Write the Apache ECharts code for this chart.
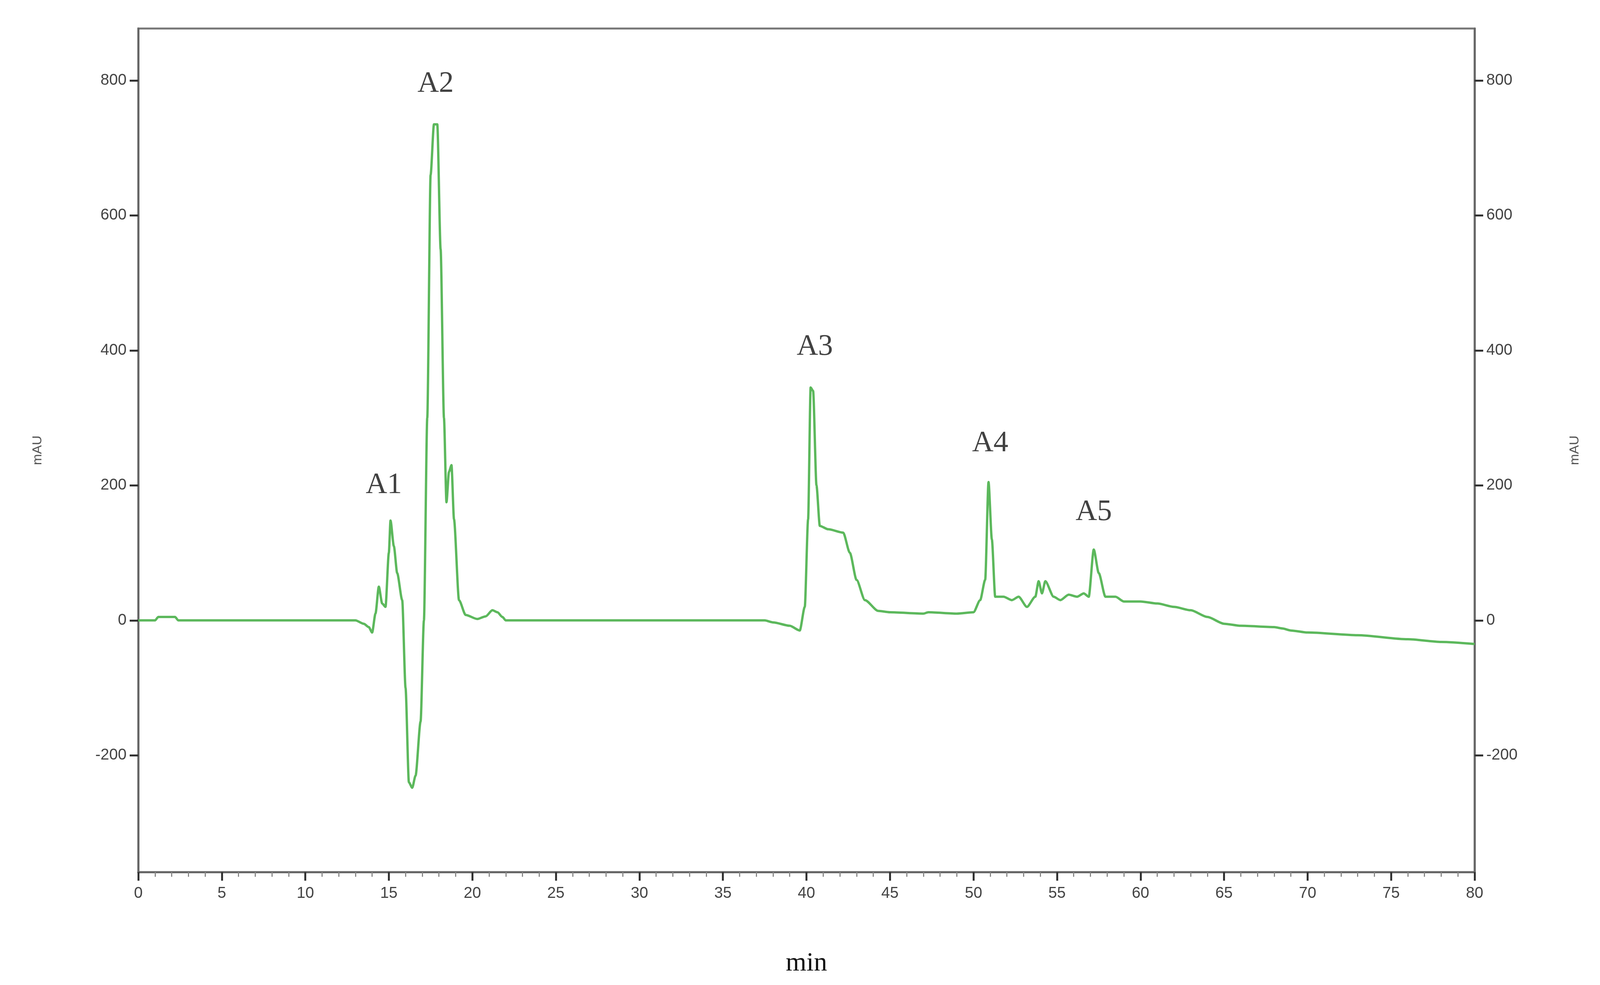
<!DOCTYPE html>
<html>
<head>
<meta charset="utf-8">
<script src="https://cdn.jsdelivr.net/npm/echarts@6/dist/echarts.min.js"></script>
<style>html,body{margin:0;padding:0;background:#fff;overflow:hidden}#chart{width:100vw;height:100vh}</style>
</head>
<body>
<div id="chart"></div>
<script>
// retention time (min) and absorbance (mAU)
var times = [0, 1.0, 1.2, 2.2, 2.4, 13.0, 13.5, 13.8, 14.0, 14.2, 14.4, 14.6, 14.8, 15.0, 15.1, 15.3, 15.5, 15.8, 16.0, 16.2, 16.4, 16.6, 16.9, 17.1, 17.3, 17.5, 17.7, 17.9, 18.1, 18.3, 18.45, 18.6, 18.75, 18.9, 19.2, 19.6, 20.3, 20.8, 21.2, 21.5, 21.8, 22.0, 37.5, 38.0, 39.0, 39.6, 39.9, 40.1, 40.25, 40.4, 40.6, 40.8, 41.3, 42.2, 42.6, 43.0, 43.5, 44.3, 45.0, 47.0, 47.3, 49.0, 50.0, 50.4, 50.7, 50.9, 51.1, 51.3, 51.8, 52.3, 52.7, 53.2, 53.7, 53.9, 54.1, 54.3, 54.8, 55.2, 55.7, 56.2, 56.6, 56.9, 57.2, 57.5, 57.9, 58.5, 59.0, 60.0, 61.0, 62.0, 63.0, 64.0, 65.0, 66.0, 68.0, 68.5, 69.0, 70.0, 73.0, 76.0, 78.0, 80.0];
var mAU = [0, 0, 5, 5, 0, 0, -5, -10, -18, 10, 50, 25, 20, 100, 148, 110, 70, 30, -100, -240, -248, -230, -150, 0, 300, 660, 735, 735, 550, 300, 175, 220, 230, 150, 30, 8, 2, 6, 15, 12, 5, 0, 0, -3, -8, -15, 20, 150, 345, 340, 200, 140, 135, 130, 100, 60, 30, 14, 12, 10, 12, 10, 12, 30, 60, 205, 120, 35, 35, 30, 35, 20, 35, 58, 40, 58, 35, 30, 38, 35, 40, 35, 105, 70, 35, 35, 28, 28, 25, 20, 15, 5, -5, -8, -10, -12, -15, -18, -22, -28, -32, -35];
var peakNames = ['A1', 'A2', 'A3', 'A4', 'A5'];
var peakTimes = [14.7, 17.8, 40.5, 51.0, 57.2];
var peakLabelY = [200, 795, 405, 262, 160];
var yTicks = [-200, 0, 200, 400, 600, 800];

var chart = echarts.init(document.getElementById('chart'));

function yAxis(pos) {
	return {
		type: 'value', position: pos, min: -373, max: 877,
		name: 'mAU', nameLocation: 'middle', nameGap: 240,
		nameTextStyle: { fontSize: 34, color: '#555', fontFamily: 'Liberation Sans' },
		axisLine: { show: true, lineStyle: { color: '#666', width: 5 } },
		axisTick: { show: true, length: 22, lineStyle: { color: '#333', width: 5 }, customValues: yTicks },
		axisLabel: { fontSize: 40, color: '#444', margin: 30, customValues: yTicks, fontFamily: 'Liberation Sans' },
		splitLine: { show: false }
	};
}

var option = {
	backgroundColor: '#fff',
	animation: false,
	grid: { left: 354, right: 321, top: 73, bottom: 289, show: true, borderColor: '#777', borderWidth: 5 },
	xAxis: {
		type: 'value', min: 0, max: 80, interval: 5,
		name: 'min', nameLocation: 'middle', nameGap: 200,
		nameTextStyle: { fontSize: 68, color: '#111', fontFamily: 'Liberation Serif' },
		axisLine: { onZero: false, lineStyle: { color: '#666', width: 5 } },
		axisTick: { length: 22, lineStyle: { color: '#333', width: 5 } },
		minorTick: { show: true, splitNumber: 5, length: 12, lineStyle: { color: '#888', width: 3 } },
		axisLabel: { fontSize: 40, color: '#444', margin: 35, fontFamily: 'Liberation Sans' },
		splitLine: { show: false }
	},
	yAxis: [yAxis('left'), yAxis('right')],
	series: [{
		type: 'line',
		data: times.map(function (t, i) { return [t, mAU[i]]; }),
		showSymbol: false,
		smooth: 0.25,
		smoothMonotone: 'x',
		lineStyle: { color: '#5cb85c', width: 6 },
		itemStyle: { color: '#5cb85c' }
	}, {
		type: 'scatter',
		data: peakTimes.map(function (t, i) { return { value: [t, peakLabelY[i]], name: peakNames[i] }; }),
		symbolSize: 0,
		label: { show: true, position: 'inside', formatter: '{b}', fontSize: 76, color: '#111', fontFamily: 'Liberation Serif' }
	}]
};
chart.setOption(option);
</script>
</body>
</html>
